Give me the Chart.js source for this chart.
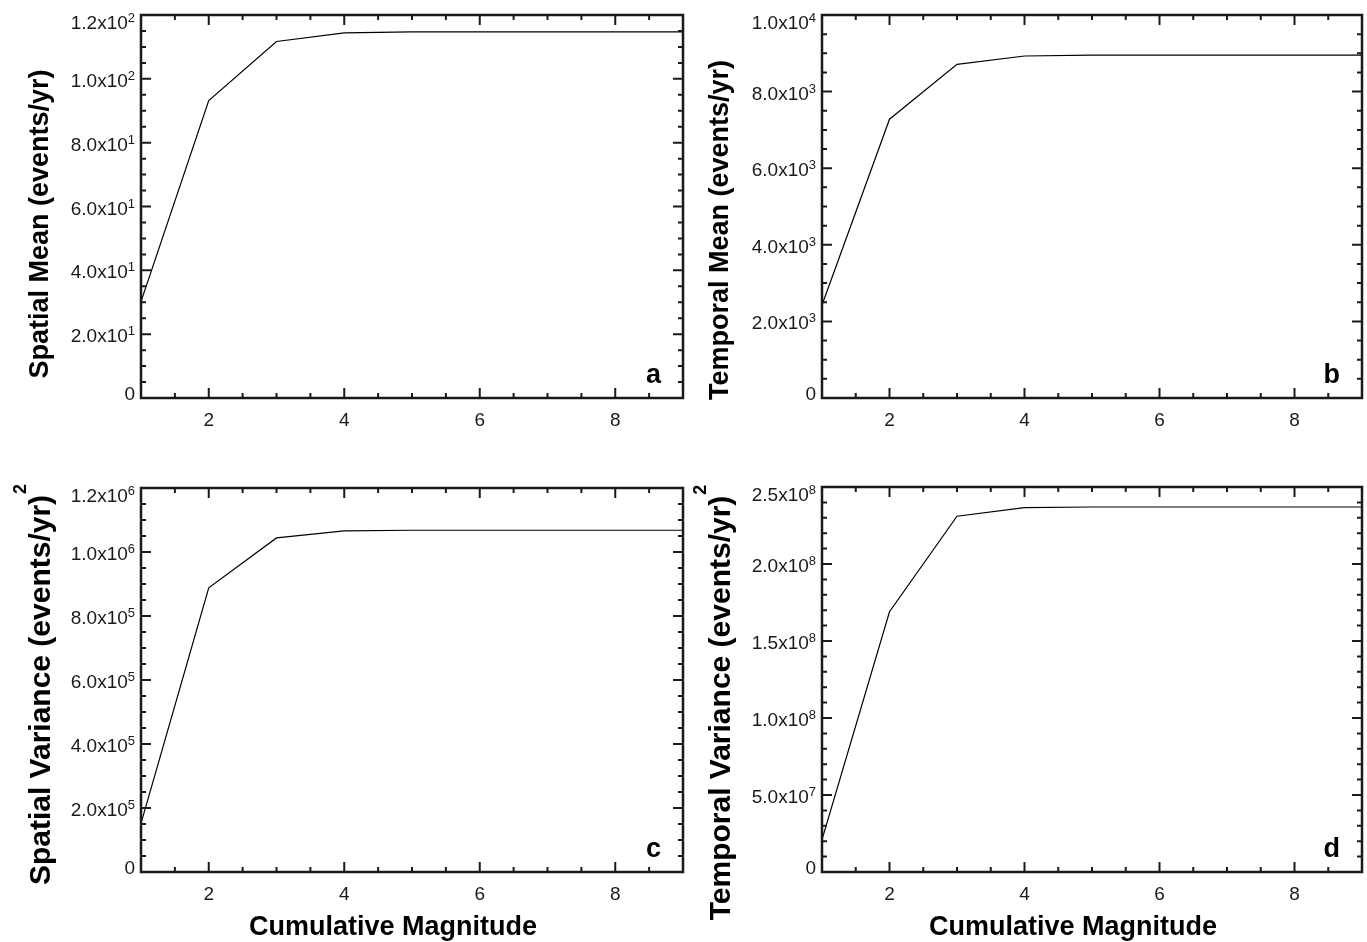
<!DOCTYPE html>
<html>
<head>
<meta charset="utf-8">
<script src="https://cdn.jsdelivr.net/npm/chart.js@4.4.1/dist/chart.umd.min.js"></script>
<style>
  html, body { margin: 0; padding: 0; background: #fff; }
  #wrap { position: relative; width: 1367px; height: 942px; }
  #wrap canvas { position: absolute; left: 0; top: 0; }
</style>
</head>
<body>
<div id="wrap">
  <canvas id="panelA" width="1367" height="942"></canvas>
  <canvas id="panelB" width="1367" height="942"></canvas>
  <canvas id="panelC" width="1367" height="942"></canvas>
  <canvas id="panelD" width="1367" height="942"></canvas>
</div>
<script>
// cumulative magnitude threshold
var magnitude = [1, 2, 3, 4, 5, 6, 7, 8, 9];

var spatialMean = [30.2, 93.2, 111.7, 114.4, 114.7, 114.7, 114.7, 114.7, 114.7];
var temporalMean = [2430, 7280, 8710, 8930, 8950, 8950, 8950, 8950, 8950];
var spatialVariance = [152000, 888000, 1044000, 1066000, 1068000, 1068000, 1068000, 1068000, 1068000];
var temporalVariance = [2.1e7, 1.69e8, 2.31e8, 2.366e8, 2.37e8, 2.37e8, 2.37e8, 2.37e8, 2.37e8];

var xTicks = [2, 4, 6, 8];
var xMinorStep = 0.5;
var yTicksA = [0, 20, 40, 60, 80, 100, 120];
var yTicksB = [0, 2000, 4000, 6000, 8000, 10000];
var yTicksC = [0, 2e5, 4e5, 6e5, 8e5, 1e6, 1.2e6];
var yTicksD = [0, 5e7, 1e8, 1.5e8, 2e8, 2.5e8];

var FONT = '"Liberation Sans", Arial, Helvetica, sans-serif';
var INK = '#1a1a1a';

var panels = [
    { id: 'panelA', data: spatialMean, yTicks: yTicksA, yMinor: 5, letter: 'a',
      title: 'Spatial Mean (events/yr)', sup: '', xTitle: false, titleSize: 27,
      pad: { left: 141, top: 15, right: 684, bottom: 544 }, titleX: 48, titleY: 224 },
    { id: 'panelB', data: temporalMean, yTicks: yTicksB, yMinor: 500, letter: 'b',
      title: 'Temporal Mean (events/yr)', sup: '', xTitle: false, titleSize: 27,
      pad: { left: 822, top: 15, right: 5, bottom: 544 }, titleX: 728, titleY: 230 },
    { id: 'panelC', data: spatialVariance, yTicks: yTicksC, yMinor: 5e4, letter: 'c',
      title: 'Spatial Variance (events/yr)', sup: '2', xTitle: true, titleSize: 30,
      pad: { left: 141, top: 488, right: 684, bottom: 70 }, titleX: 50, titleY: 690 },
    { id: 'panelD', data: temporalVariance, yTicks: yTicksD, yMinor: 1e7, letter: 'd',
      title: 'Temporal Variance (events/yr)', sup: '2', xTitle: true, titleSize: 30,
      pad: { left: 822, top: 487, right: 5, bottom: 70 }, titleX: 730, titleY: 708 }
];

function splitLabel(v) {
    if (v === 0) return { m: '0', e: '' };
    var e = Math.floor(Math.log10(v) + 1e-9);
    return { m: (v / Math.pow(10, e)).toFixed(1) + 'x10', e: String(e) };
}

var framePlugin = {
    id: 'frame',
    afterDraw: function (chart, args, opts) {
        var p = opts.panel;
        var ctx = chart.ctx;
        var a = chart.chartArea;
        var xs = chart.scales.x, ys = chart.scales.y;
        var yMax = p.yTicks[p.yTicks.length - 1];

        ctx.save();
        ctx.strokeStyle = INK;
        ctx.fillStyle = INK;

        // ticks, pointing inward on all four sides
        ctx.lineWidth = 2;
        ctx.beginPath();
        var v, px, py, len;
        for (v = 1; v <= 9 + 1e-9; v += xMinorStep) {
            px = xs.getPixelForValue(v);
            len = xTicks.indexOf(v) >= 0 ? 10 : 5;
            ctx.moveTo(px, a.bottom); ctx.lineTo(px, a.bottom - len);
            ctx.moveTo(px, a.top); ctx.lineTo(px, a.top + len);
        }
        for (v = 0; v <= yMax + 1e-6; v += p.yMinor) {
            py = ys.getPixelForValue(v);
            len = Math.abs(v % (p.yTicks[1])) < 1e-6 ? 10 : 5;
            ctx.moveTo(a.left, py); ctx.lineTo(a.left + len, py);
            ctx.moveTo(a.right, py); ctx.lineTo(a.right - len, py);
        }
        ctx.stroke();

        // box
        ctx.lineWidth = 2.5;
        ctx.strokeRect(a.left, a.top, a.right - a.left, a.bottom - a.top);

        // x tick labels
        ctx.font = '19px ' + FONT;
        ctx.textAlign = 'center';
        ctx.textBaseline = 'alphabetic';
        xTicks.forEach(function (t) {
            ctx.fillText(String(t), xs.getPixelForValue(t), a.bottom + 28);
        });

        // y tick labels with superscript exponents
        p.yTicks.forEach(function (t) {
            var lab = splitLabel(t);
            var y = ys.getPixelForValue(t);
            var mid = Math.min(Math.max(y + 1, a.top + 7), a.bottom - 5);
            var base = mid + 7;
            var right = a.left - 6;
            ctx.textAlign = 'right';
            if (lab.e) {
                ctx.font = '13px ' + FONT;
                var ew = ctx.measureText(lab.e).width;
                ctx.fillText(lab.e, right, base - 7);
                right -= ew;
            }
            ctx.font = '19px ' + FONT;
            ctx.fillText(lab.m, right, base);
        });

        // panel letter
        ctx.fillStyle = '#000';
        ctx.font = 'bold 27px ' + FONT;
        ctx.textAlign = 'right';
        ctx.fillText(p.letter, a.right - 22, a.bottom - 15);

        // y title, rotated
        var big = 'bold ' + p.titleSize + 'px ' + FONT;
        var small = 'bold ' + Math.round(p.titleSize * 0.6) + 'px ' + FONT;
        ctx.save();
        ctx.translate(p.titleX, p.titleY);
        ctx.rotate(-Math.PI / 2);
        ctx.font = big;
        var tw = ctx.measureText(p.title).width;
        var x0 = -tw / 2;
        ctx.textAlign = 'left';
        ctx.fillText(p.title, x0, 0);
        if (p.sup) {
            ctx.font = small;
            ctx.fillText(p.sup, x0 + tw + 1, -p.titleSize * 0.8);
        }
        ctx.restore();

        // x title
        if (p.xTitle) {
            ctx.font = 'bold 27px ' + FONT;
            ctx.textAlign = 'center';
            ctx.fillText('Cumulative Magnitude', (a.left + a.right) / 2 - 19, a.bottom + 63);
        }
        ctx.restore();
    }
};

panels.forEach(function (p) {
    new Chart(document.getElementById(p.id), {
        type: 'line',
        data: {
            datasets: [{
                data: magnitude.map(function (m, i) { return { x: m, y: p.data[i] }; }),
                borderColor: '#000',
                borderWidth: 1.2,
                pointRadius: 0,
                fill: false,
                tension: 0
            }]
        },
        options: {
            responsive: false,
            animation: false,
            devicePixelRatio: 1,
            layout: { padding: p.pad },
            plugins: {
                legend: { display: false },
                tooltip: { enabled: false },
                frame: { panel: p }
            },
            scales: {
                x: { type: 'linear', min: 1, max: 9, display: false },
                y: { type: 'linear', min: 0, max: p.yTicks[p.yTicks.length - 1], display: false }
            }
        },
        plugins: [framePlugin]
    });
});
</script>
</body>
</html>
